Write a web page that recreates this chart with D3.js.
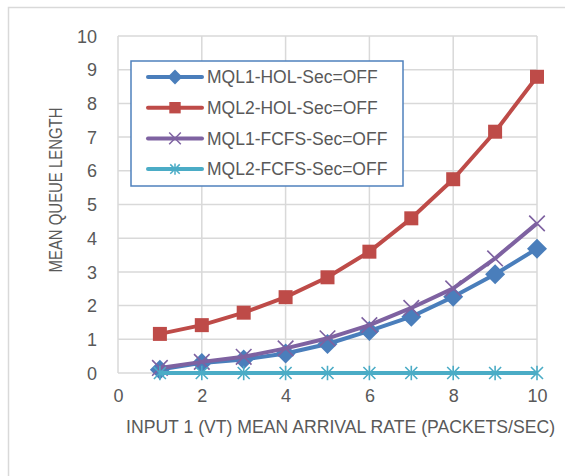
<!DOCTYPE html>
<html><head><meta charset="utf-8">
<script src="https://cdn.jsdelivr.net/npm/d3@7"></script>
<style>html,body{margin:0;padding:0;background:#fff;}svg{display:block;}</style>
</head><body>
<svg id="chart" width="565" height="476"></svg>
<script>
const xValues = [1,2,3,4,5,6,7,8,9,10];
const mql1Hol  = [0.10,0.30,0.40,0.58,0.86,1.25,1.67,2.26,2.93,3.69];
const mql2Hol  = [1.16,1.42,1.79,2.25,2.84,3.60,4.59,5.75,7.16,8.79];
const mql1Fcfs = [0.15,0.33,0.48,0.73,1.03,1.42,1.93,2.51,3.40,4.44];
const mql2Fcfs = [0,0,0,0,0,0,0,0,0,0];
const seriesNames = ["MQL1-HOL-Sec=OFF","MQL2-HOL-Sec=OFF","MQL1-FCFS-Sec=OFF","MQL2-FCFS-Sec=OFF"];
const xTicks = [0,2,4,6,8,10];
const yTicks = [0,1,2,3,4,5,6,7,8,9,10];
const xTitle = "INPUT 1 (VT) MEAN ARRIVAL RATE (PACKETS/SEC)";
const yTitle = "MEAN QUEUE LENGTH";

const colors = ["#4A7EBB","#BE4B48","#7E62A1","#4BACC6"];
const font = "'Liberation Sans', Arial, sans-serif";
const svg = d3.select("#chart");

// outer chart border
svg.append("rect").attr("x",8.5).attr("y",7.5).attr("width",600).attr("height",500)
  .attr("fill","#fff").attr("stroke","#d9d9d9").attr("stroke-width",1.5);

const x = d3.scaleLinear().domain([0,10]).range([118,537]);
const y = d3.scaleLinear().domain([0,10]).range([373,36]);

// gridlines
const g = svg.append("g");
g.selectAll(".hg").data(yTicks).join("line")
  .attr("x1",x(0)).attr("x2",x(10)).attr("y1",d=>y(d)).attr("y2",d=>y(d))
  .attr("stroke","#d9d9d9").attr("stroke-width",1.5);
g.selectAll(".vg").data(xTicks).join("line")
  .attr("y1",y(0)).attr("y2",y(10)).attr("x1",d=>x(d)).attr("x2",d=>x(d))
  .attr("stroke","#d9d9d9").attr("stroke-width",1.5);

// axes (labels only)
const yAxis = d3.axisLeft(y).tickValues(yTicks).tickSize(0).tickPadding(0);
const ya = svg.append("g").attr("transform","translate(97,0)").call(yAxis);
ya.select(".domain").remove();
ya.selectAll("text").attr("font-family",font).attr("font-size",18).attr("fill","#595959").attr("dy","0.34em");

const xAxis = d3.axisBottom(x).tickValues(xTicks).tickSize(0).tickPadding(0);
const xa = svg.append("g").attr("transform","translate(0,389)").call(xAxis);
xa.select(".domain").remove();
xa.selectAll("text").attr("font-family",font).attr("font-size",18).attr("fill","#595959").attr("dy","0.71em");

// titles
svg.append("text").attr("x",340.5).attr("y",433).attr("text-anchor","middle")
  .attr("font-family",font).attr("font-size",18).attr("fill","#595959")
  .attr("textLength",429).attr("lengthAdjust","spacingAndGlyphs").text(xTitle);
svg.append("text").attr("transform","translate(62,190) rotate(-90)").attr("text-anchor","middle")
  .attr("font-family",font).attr("font-size",18).attr("fill","#595959")
  .attr("textLength",165).attr("lengthAdjust","spacingAndGlyphs").text(yTitle);

// marker symbols
const diamondType = {draw(ctx,size){const r=Math.sqrt(size/2); ctx.moveTo(0,-r);ctx.lineTo(r,0);ctx.lineTo(0,r);ctx.lineTo(-r,0);ctx.closePath();}};
const starType = {draw(ctx,size){const r=Math.sqrt(size)/2; ctx.moveTo(-r,-r);ctx.lineTo(r,r);ctx.moveTo(-r,r);ctx.lineTo(r,-r);ctx.moveTo(0,-r*1.2);ctx.lineTo(0,r*1.2);}};
const markers = [
  {type:diamondType,size:200,fill:true},
  {type:d3.symbolSquare,size:196,fill:true},
  {type:d3.symbolX,size:160,fill:false},
  {type:starType,size:144,fill:false}
];
const allSeries = [mql1Hol,mql2Hol,mql1Fcfs,mql2Fcfs];
const line = d3.line().x(d=>x(d[0])).y(d=>y(d[1]));

allSeries.forEach((vals,i)=>{
  const pts = xValues.map((xv,j)=>[xv,vals[j]]);
  const sg = svg.append("g");
  sg.append("path").attr("d",line(pts)).attr("fill","none").attr("stroke",colors[i])
    .attr("stroke-width",4).attr("stroke-linejoin","round");
  const m = markers[i];
  sg.selectAll("path.m").data(pts).join("path").attr("class","m")
    .attr("transform",d=>`translate(${x(d[0])},${y(d[1])})`)
    .attr("d",d3.symbol().type(m.type).size(m.size))
    .attr("fill",m.fill?colors[i]:"none")
    .attr("stroke",colors[i]).attr("stroke-width",m.fill?0:1.6);
});

// legend
const lg = svg.append("g");
lg.append("rect").attr("x",131).attr("y",61).attr("width",272).attr("height",125)
  .attr("fill","#fff").attr("stroke","#4F81BD").attr("stroke-width",1.5);
const legMarkers = [
  {type:diamondType,size:110},{type:d3.symbolSquare,size:130},{type:d3.symbolX,size:90},{type:starType,size:90}
];
seriesNames.forEach((name,i)=>{
  const yy = 77 + i*30.7;
  lg.append("line").attr("x1",148).attr("x2",202).attr("y1",yy).attr("y2",yy)
    .attr("stroke",colors[i]).attr("stroke-width",4).attr("stroke-linecap","round");
  lg.append("path").attr("transform",`translate(175,${yy})`)
    .attr("d",d3.symbol().type(legMarkers[i].type).size(legMarkers[i].size))
    .attr("fill",markers[i].fill?colors[i]:"none").attr("stroke",colors[i]).attr("stroke-width",markers[i].fill?0:1.5);
  lg.append("text").attr("x",207).attr("y",yy).attr("dy","0.35em")
    .attr("font-family",font).attr("font-size",17.5).attr("fill","#595959").text(name);
});
</script>
</body></html>
